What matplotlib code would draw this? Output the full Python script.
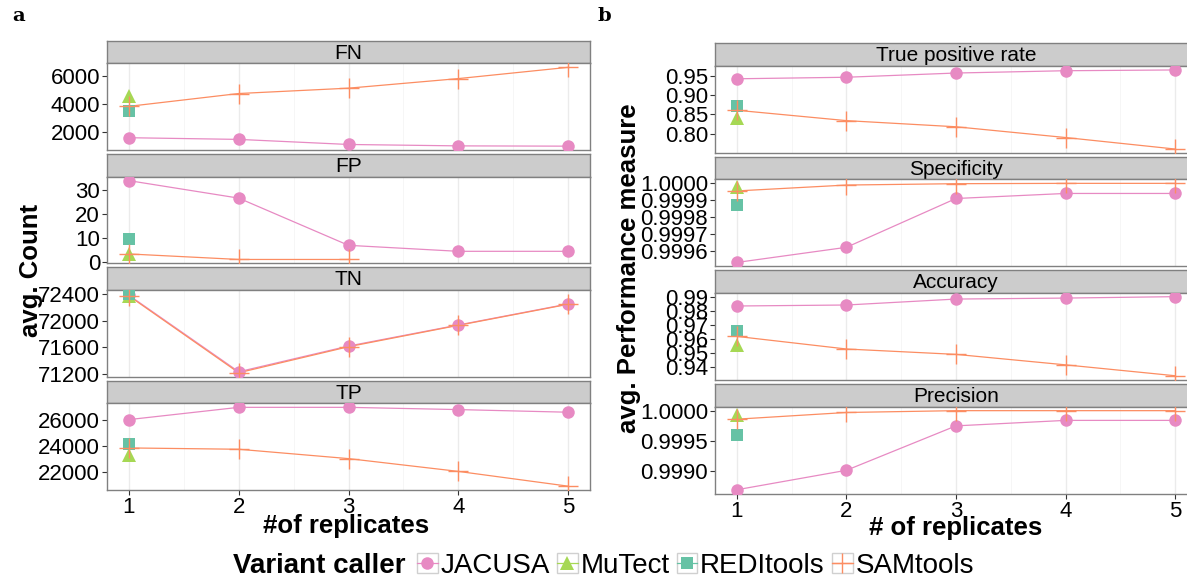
import matplotlib
matplotlib.use('Agg')
import matplotlib.pyplot as plt
from matplotlib.lines import Line2D
from matplotlib.patches import Rectangle
from matplotlib.legend_handler import HandlerTuple
from matplotlib.ticker import FixedLocator, FixedFormatter

plt.rcParams['font.family'] = ['Liberation Sans', 'DejaVu Sans']

# number of replicates on the x axis
replicates = [1, 2, 3, 4, 5]

# a: average counts
fn_jacusa = [1600, 1480, 1120, 1020, 1000]
fn_samtools = [3830, 4740, 5120, 5800, 6600]
fn_mutect = [4550]
fn_reditools = [3480]

fp_jacusa = [34.0, 26.7, 7.0, 4.5, 4.5]
fp_samtools = [3.4, 1.1, 1.1]          # only three replicate sets
fp_mutect = [3.4]
fp_reditools = [9.7]

tn_jacusa = [72380, 71235, 71620, 71935, 72250]
tn_samtools = [72370, 71220, 71610, 71930, 72245]
tn_mutect = [72375]
tn_reditools = [72400]

tp_jacusa = [26000, 26930, 26930, 26760, 26560]
tp_samtools = [23850, 23750, 23040, 22070, 20950]
tp_mutect = [23280]
tp_reditools = [24180]

# b: average performance measures
tpr_jacusa = [0.943, 0.947, 0.958, 0.964, 0.966]
tpr_samtools = [0.861, 0.834, 0.818, 0.790, 0.760]
tpr_mutect = [0.841]
tpr_reditools = [0.873]

spec_jacusa = [0.99953, 0.99962, 0.99991, 0.99994, 0.99994]
spec_samtools = [0.999955, 0.999990, 0.999998, 1.0, 1.0]
spec_mutect = [0.99998]
spec_reditools = [0.99987]

acc_jacusa = [0.9834, 0.9841, 0.9883, 0.9890, 0.9900]
acc_samtools = [0.9619, 0.9530, 0.9492, 0.9418, 0.9341]
acc_mutect = [0.9560]
acc_reditools = [0.9658]

prec_jacusa = [0.99870, 0.99902, 0.99975, 0.99984, 0.99984]
prec_samtools = [0.99986, 0.99997, 1.0, 1.0, 1.0]
prec_mutect = [0.99993]
prec_reditools = [0.99960]

callers = ['JACUSA', 'MuTect', 'REDItools', 'SAMtools']
colors = {'JACUSA': '#E78AC3', 'MuTect': '#A6D854',
          'REDItools': '#66C2A5', 'SAMtools': '#FC8D62'}
markers = {'JACUSA': 'o', 'MuTect': '^', 'REDItools': 's', 'SAMtools': '+'}
msizes = {'JACUSA': 9, 'MuTect': 10, 'REDItools': 8.5, 'SAMtools': 15}

panels_a = [
    ('FN', [fn_jacusa, fn_mutect, fn_reditools, fn_samtools],
     [2000, 4000, 6000], '{:.0f}'),
    ('FP', [fp_jacusa, fp_mutect, fp_reditools, fp_samtools],
     [0, 10, 20, 30], '{:.0f}'),
    ('TN', [tn_jacusa, tn_mutect, tn_reditools, tn_samtools],
     [71200, 71600, 72000, 72400], '{:.0f}'),
    ('TP', [tp_jacusa, tp_mutect, tp_reditools, tp_samtools],
     [22000, 24000, 26000], '{:.0f}'),
]
panels_b = [
    ('True positive rate', [tpr_jacusa, tpr_mutect, tpr_reditools, tpr_samtools],
     [0.80, 0.85, 0.90, 0.95], '{:.2f}'),
    ('Specificity', [spec_jacusa, spec_mutect, spec_reditools, spec_samtools],
     [0.9996, 0.9997, 0.9998, 0.9999, 1.0], '{:.4f}'),
    ('Accuracy', [acc_jacusa, acc_mutect, acc_reditools, acc_samtools],
     [0.94, 0.95, 0.96, 0.97, 0.98, 0.99], '{:.2f}'),
    ('Precision', [prec_jacusa, prec_mutect, prec_reditools, prec_samtools],
     [0.9990, 0.9995, 1.0], '{:.4f}'),
]

W, H = 1187, 582
fig = plt.figure(figsize=(W / 100, H / 100), dpi=100)


def px_rect(left, top, right, bottom):
    return [left / W, 1 - bottom / H, (right - left) / W, (bottom - top) / H]


def draw_facet(left, right, top, strip_h, panel_h, title, series, yticks, fmt, bottom_row):
    strip = fig.add_axes(px_rect(left, top, right, top + strip_h))
    strip.set_facecolor('#CCCCCC')
    strip.set_xticks([])
    strip.set_yticks([])
    for s in strip.spines.values():
        s.set_color('#808080')
        s.set_linewidth(1.0)
    strip.text(0.5, 0.45, title, ha='center', va='center', fontsize=15,
               transform=strip.transAxes)

    ax = fig.add_axes(px_rect(left, top + strip_h, right, top + strip_h + panel_h))
    ax.set_facecolor('white')
    for name, vals in zip(callers, series):
        xs = replicates[:len(vals)]
        if len(vals) > 1:
            ax.plot(xs, vals, color=colors[name], lw=0.9, zorder=3)
        ax.plot(xs, vals, linestyle='none', marker=markers[name],
                markersize=msizes[name], color=colors[name],
                markeredgewidth=1.0 if name == 'SAMtools' else 0, zorder=4)
    ax.set_xlim(0.8, 5.2)
    ax.margins(y=0.05)
    ax.xaxis.set_major_locator(FixedLocator(replicates))
    ax.xaxis.set_minor_locator(FixedLocator([1.5, 2.5, 3.5, 4.5]))
    ax.grid(True, which='major', axis='x', color='#EBEBEB', lw=1.0, zorder=0)
    ax.grid(True, which='minor', axis='x', color='#F5F5F5', lw=0.6, zorder=0)
    ax.set_axisbelow(True)
    ax.yaxis.set_major_locator(FixedLocator(yticks))
    ax.yaxis.set_major_formatter(FixedFormatter([fmt.format(t) for t in yticks]))
    ax.tick_params(axis='y', labelsize=16, length=3.5, width=0.8,
                   color='#333333', pad=1.5)
    ax.tick_params(axis='x', which='minor', length=0)
    if bottom_row:
        ax.tick_params(axis='x', labelsize=16, length=3.5, width=0.8,
                       color='#333333', pad=1.5)
    else:
        ax.tick_params(axis='x', labelbottom=False, length=0)
    for s in ax.spines.values():
        s.set_color('#808080')
        s.set_linewidth(1.0)
    return ax


tops_a = [40.7, 154.0, 267.3, 380.7]
for i, (title, series, yticks, fmt) in enumerate(panels_a):
    draw_facet(107, 590, tops_a[i], 22.7, 86.7, title, series, yticks, fmt, i == 3)

tops_b = [43.3, 156.7, 270.0, 384.0]
for i, (title, series, yticks, fmt) in enumerate(panels_b):
    draw_facet(715, 1197, tops_b[i], 22.7, 87.0, title, series, yticks, fmt, i == 3)

# panel letters
fig.text(12 / W, 1 - 16 / H, 'a', family='DejaVu Serif', fontweight='bold',
         fontsize=14, va='center', ha='left')
fig.text(598 / W, 1 - 16 / H, 'b', family='DejaVu Serif', fontweight='bold',
         fontsize=14, va='center', ha='left')

# axis titles
fig.text(31 / W, 1 - 270 / H, 'avg. Count', rotation=90, fontweight='bold',
         fontsize=18.5, ha='center', va='center')
fig.text(629 / W, 1 - 268 / H, 'avg. Performance measure', rotation=90,
         fontweight='bold', fontsize=18.5, ha='center', va='center')
fig.text(346 / W, 1 - 526 / H, '#of replicates', fontweight='bold',
         fontsize=18.5, ha='center', va='center')
fig.text(956 / W, 1 - 528 / H, '# of replicates', fontweight='bold',
         fontsize=18.5, ha='center', va='center')

# legend along the bottom, keys drawn as boxed symbols
fig.text(233 / W, 1 - 566 / H, 'Variant caller', fontweight='bold',
         fontsize=20, ha='left', va='center')
handles = []
for n in callers:
    box = Rectangle((0, 0), 1, 1, facecolor='white', edgecolor='#D0D0D0', lw=1.0)
    sym = Line2D([], [], color=colors[n], lw=0.9, marker=markers[n],
                 markersize=msizes[n], markeredgewidth=1.0 if n == 'SAMtools' else 0)
    handles.append((box, sym))
fig.legend(handles, callers, ncol=4, loc='center left',
           bbox_to_anchor=(417 / W, 1 - 566 / H), frameon=False, fontsize=20,
           handlelength=0.75, handleheight=0.75, handletextpad=0.1,
           columnspacing=0.25, borderpad=0, borderaxespad=0,
           handler_map={tuple: HandlerTuple(ndivide=1, pad=0)})

fig.savefig('out.png', dpi=100)
